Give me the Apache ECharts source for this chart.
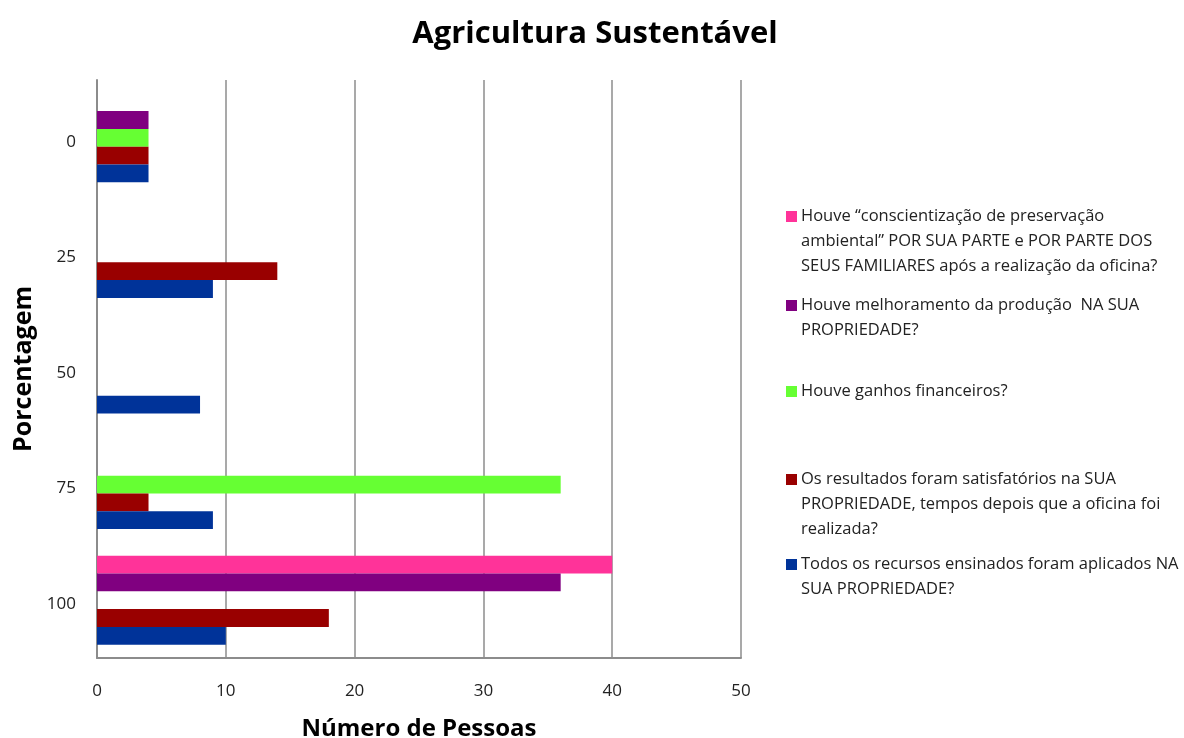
<!DOCTYPE html>
<html>
<head>
<meta charset="utf-8">
<script src="https://cdn.jsdelivr.net/npm/echarts@6/dist/echarts.min.js"></script>
<style>
  html, body { margin: 0; padding: 0; background: #fff; }
  #chart { width: 1184px; height: 738px; }
</style>
</head>
<body>
<div id="chart"></div>
<script>
var categories = ['0', '25', '50', '75', '100'];
var seriesNames = [
  'Houve \u201cconscientiza\u00e7\u00e3o de preserva\u00e7\u00e3o\nambiental\u201d POR SUA PARTE e POR PARTE DOS\nSEUS FAMILIARES ap\u00f3s a realiza\u00e7\u00e3o da oficina?',
  'Houve melhoramento da produ\u00e7\u00e3o  NA SUA\nPROPRIEDADE?',
  'Houve ganhos financeiros?',
  'Os resultados foram satisfat\u00f3rios na SUA\nPROPRIEDADE, tempos depois que a oficina foi\nrealizada?',
  'Todos os recursos ensinados foram aplicados NA\nSUA PROPRIEDADE?'
];
var conscientizacao = [0, 0, 0, 0, 40];
var melhoramento = [4, 0, 0, 0, 36];
var ganhos = [4, 0, 0, 36, 0];
var satisfatorios = [4, 14, 0, 4, 18];
var recursos = [4, 9, 8, 9, 10];
var colors = ['#ff3399', '#800080', '#66ff33', '#990000', '#003399'];
var legendTops = [204, 293, 379, 467, 552];

var font = '"Open Sans", "DejaVu Sans", sans-serif';
var chart = echarts.init(document.getElementById('chart'));

var values = [conscientizacao, melhoramento, ganhos, satisfatorios, recursos];

var series = values.map(function (v, i) {
  return {
    name: seriesNames[i],
    type: 'bar',
    data: v,
    barGap: '0%',
    barCategoryGap: '23%',
    itemStyle: { color: colors[i] }
  };
});

// marker next to the first line only, like the original legend
var legendText = function (name) {
  return name.split('\n').map(function (line, k) {
    return (k === 0 ? '{m|}{g|}' : '{s|}') + line;
  }).join('\n');
};

var legends = seriesNames.map(function (n, i) {
  return {
    data: [n],
    left: 781,
    top: legendTops[i],
    padding: 0,
    icon: 'rect',
    itemWidth: 0,
    itemHeight: 0,
    itemStyle: { opacity: 0 },
    selectedMode: false,
    formatter: legendText,
    textStyle: {
      fontFamily: font,
      fontSize: 16.5,
      color: '#222',
      lineHeight: 25,
      rich: {
        m: { width: 11, height: 11, backgroundColor: colors[i] },
        g: { width: 4 },
        s: { width: 15 }
      }
    }
  };
});

chart.setOption({
  animation: false,
  color: colors,
  title: {
    text: 'Agricultura Sustent\u00e1vel',
    left: 590,
    top: 14,
    textAlign: 'center',
    textStyle: { fontFamily: font, fontSize: 31, fontWeight: 'bold', color: '#000' }
  },
  legend: legends,
  grid: { left: 97, right: 443, top: 80, bottom: 80, outerBoundsMode: 'none' },
  xAxis: {
    type: 'value',
    min: 0,
    max: 50,
    interval: 10,
    name: 'N\u00famero de Pessoas',
    nameLocation: 'middle',
    nameGap: 59,
    nameTextStyle: { fontFamily: font, fontSize: 24, fontWeight: 'bold', color: '#000' },
    axisLine: { show: true, lineStyle: { color: '#8c8c8c', width: 2 } },
    axisTick: { show: false },
    axisLabel: { fontFamily: font, fontSize: 17, color: '#222', margin: 25 },
    splitLine: { show: true, lineStyle: { color: '#8c8c8c', width: 1.5 } }
  },
  yAxis: {
    type: 'category',
    data: categories,
    inverse: true,
    name: 'Porcentagem',
    nameLocation: 'middle',
    nameGap: 61,
    nameTextStyle: { fontFamily: font, fontSize: 25, fontWeight: 'bold', color: '#000' },
    axisLine: { show: true, lineStyle: { color: '#8c8c8c', width: 2 } },
    axisTick: { show: false },
    axisLabel: {
      fontFamily: font,
      fontSize: 17,
      color: '#222',
      margin: 21,
      formatter: function (v) { return '{v|' + v + '}'; },
      rich: { v: { fontFamily: font, fontSize: 17, color: '#222', padding: [8, 0, 0, 0] } }
    }
  },
  series: series
});
</script>
</body>
</html>
